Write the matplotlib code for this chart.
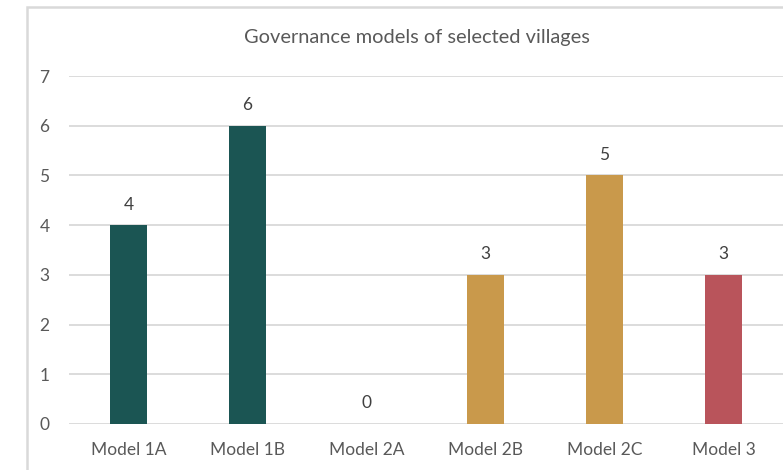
import matplotlib
matplotlib.use("Agg")
import matplotlib.pyplot as plt
from matplotlib.patches import Rectangle

categories = ["Model 1A", "Model 1B", "Model 2A", "Model 2B", "Model 2C", "Model 3"]
values = [4, 6, 0, 3, 5, 3]
colors = ["#1b5553", "#1b5553", "#1b5553", "#c9994b", "#c9994b", "#b9545b"]
yticks = [0, 1, 2, 3, 4, 5, 6, 7]
title = "Governance models of selected villages"

plt.rcParams['font.family'] = ['Lato', 'DejaVu Sans']

W, H = 783, 470
fig = plt.figure(figsize=(W / 100, H / 100), dpi=100)
fig.patch.set_facecolor("white")

ax = fig.add_axes([69 / W, (H - 424) / H, (783 - 69) / W, (424 - 76) / H])
x = list(range(len(categories)))
ax.bar(x, values, width=0.31, color=colors, zorder=3)

ax.set_xlim(-0.5, len(categories) - 0.5)
ax.set_ylim(0, 7)
ax.set_yticks(yticks)
ax.set_yticklabels([str(t) for t in yticks])
ax.set_xticks(x)
ax.set_xticklabels(categories)
ax.grid(axis="y", color="#d9d9d9", linewidth=1.3, zorder=0)
for s in ax.spines.values():
    s.set_visible(False)
ax.tick_params(axis="both", length=0, labelsize=12.5, labelcolor="#595959")
ax.tick_params(axis="y", pad=14)
ax.tick_params(axis="x", pad=13)

for xi, v in zip(x, values):
    ax.annotate(str(v), (xi, v), xytext=(0, 9), textcoords="offset points",
                ha="center", va="bottom", fontsize=12.5, color="#404040")

fig.text(417 / W, 1 - 38 / H, title, ha="center", va="center",
         fontsize=14.4, color="#595959")

fig.patches.append(Rectangle((27 / W, -0.1), 1.0, (H - 7) / H + 0.1,
                             transform=fig.transFigure, fill=False,
                             edgecolor="#d9d9d9", linewidth=1.8))

fig.savefig("out.png", dpi=100)
